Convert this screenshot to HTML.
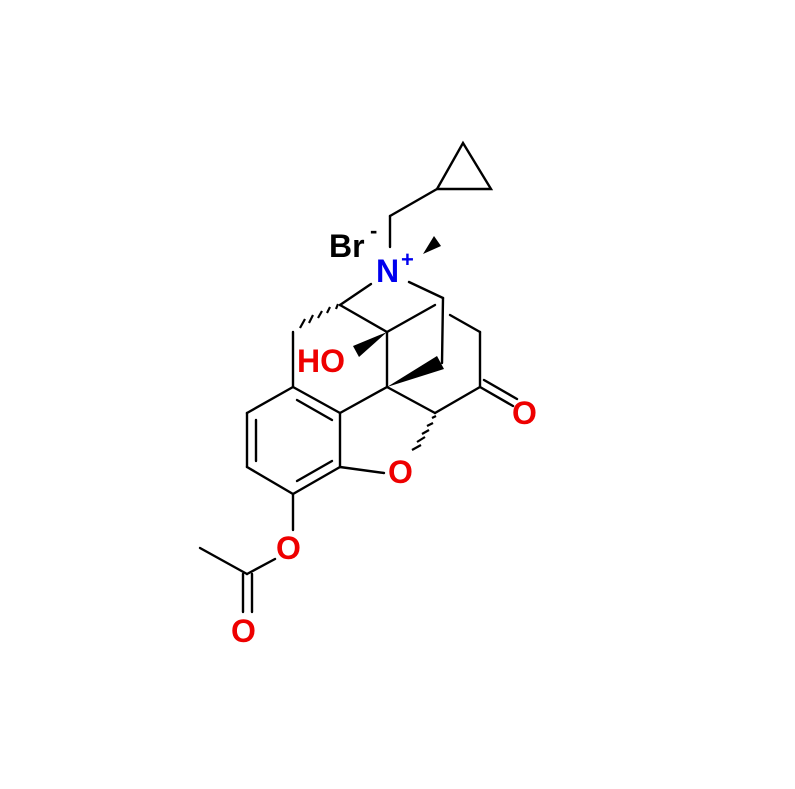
<!DOCTYPE html>
<html><head><meta charset="utf-8"><style>body{margin:0;background:#fff}svg{display:block}text{font-family:"Liberation Sans",Arial,sans-serif;font-weight:bold}</style></head><body>
<svg width="795" height="789" viewBox="0 0 795 789" xmlns="http://www.w3.org/2000/svg">
<g stroke="#000" stroke-width="2.4" fill="none" stroke-linecap="round">
<polygon points="463,143 491,189 437,189"/>
<line x1="437" y1="189" x2="390" y2="216"/>
<line x1="390" y1="216" x2="390" y2="247"/>
<line x1="371" y1="284" x2="340" y2="305"/>
<line x1="409" y1="282" x2="443" y2="298"/>
<line x1="340" y1="305" x2="387" y2="332"/>
<line x1="387" y1="332" x2="435" y2="305"/>
<line x1="443" y1="298" x2="442" y2="363"/>
<line x1="450" y1="315" x2="480" y2="332"/>
<line x1="480" y1="332" x2="480" y2="387"/>
<line x1="480" y1="387" x2="513" y2="406"/>
<line x1="484" y1="380" x2="517" y2="399"/>
<line x1="387" y1="332" x2="387" y2="387"/>
<line x1="387" y1="387" x2="435" y2="413"/>
<line x1="435" y1="413" x2="480" y2="387"/>
<line x1="387" y1="387" x2="340" y2="413"/>
<line x1="293" y1="332" x2="293" y2="387"/>
<line x1="293" y1="387" x2="340" y2="413"/>
<line x1="340" y1="413" x2="340" y2="467"/>
<line x1="340" y1="467" x2="293" y2="494"/>
<line x1="293" y1="494" x2="247" y2="467"/>
<line x1="247" y1="467" x2="247" y2="413"/>
<line x1="247" y1="413" x2="293" y2="387"/>
<line x1="297" y1="400" x2="332" y2="420"/>
<line x1="256" y1="420" x2="256" y2="461"/>
<line x1="297" y1="481" x2="332" y2="461"/>
<line x1="340" y1="467" x2="384" y2="473"/>
<line x1="293" y1="494" x2="293" y2="530"/>
<line x1="275" y1="559" x2="247" y2="574"/>
<line x1="247" y1="574" x2="200" y2="548"/>
<line x1="243" y1="574" x2="243" y2="612"/>
<line x1="252" y1="574" x2="252" y2="612"/>
</g>
<g stroke="#000" stroke-width="2.2">
<line x1="336" y1="309" x2="338" y2="304"/>
<line x1="327" y1="313" x2="330" y2="307"/>
<line x1="318" y1="318" x2="322" y2="311"/>
<line x1="309" y1="323" x2="313" y2="315"/>
<line x1="300" y1="328" x2="305" y2="319"/>
<line x1="432" y1="418" x2="436" y2="416"/>
<line x1="427" y1="426" x2="433" y2="423"/>
<line x1="422" y1="434" x2="429" y2="430"/>
<line x1="417" y1="442" x2="425" y2="437"/>
<line x1="412" y1="450" x2="421" y2="445"/>
</g>
<polygon points="423,254 434,236 441,246" fill="#000"/>
<polygon points="387,332 353,346 359,357" fill="#000"/>
<polygon points="387,387 437,356 444,369" fill="#000"/>
<g font-size="32">
<text x="329" y="257" fill="#000">Br</text>
<text x="370" y="238" fill="#000" font-size="22">-</text>
<text x="376" y="282" fill="#0000ee">N</text>
<text x="401" y="267" fill="#0000ee" font-size="22">+</text>
<text x="297" y="372" fill="#e00">HO</text>
<text x="512" y="424" fill="#e00">O</text>
<text x="388" y="483" fill="#e00">O</text>
<text x="276" y="559" fill="#e00">O</text>
<text x="231" y="642" fill="#e00">O</text>
</g>
</svg>
</body></html>
